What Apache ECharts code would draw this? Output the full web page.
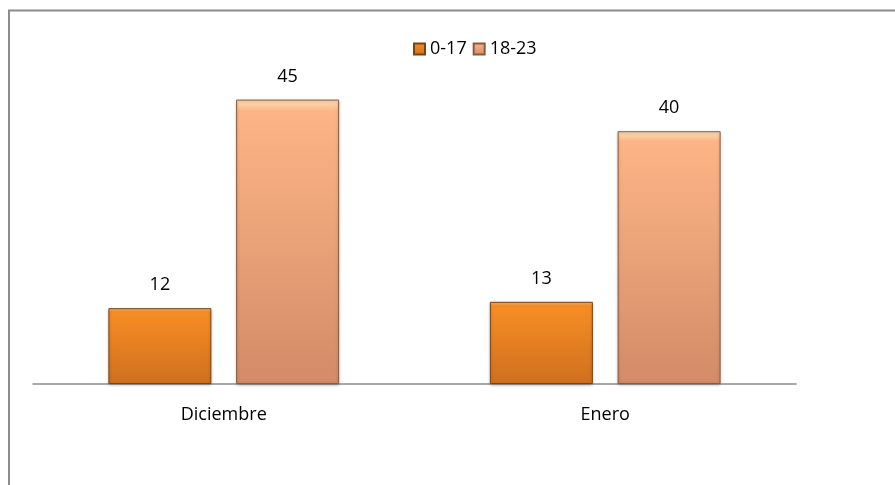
<!DOCTYPE html>
<html>
<head>
<meta charset="utf-8">
<script src="https://cdn.jsdelivr.net/npm/echarts@6/dist/echarts.min.js"></script>
<style>html,body{margin:0;padding:0;background:#fff}#c{width:895px;height:485px}</style>
</head>
<body>
<div id="c"></div>
<script>
const categories = ['Diciembre', 'Enero'];
const seriesNames = ['0-17', '18-23'];
const values0to17 = [12, 13];
const values18to23 = [45, 40];

const chart = echarts.init(document.getElementById('c'));
const font = 'Open Sans, Noto Sans, sans-serif';
const c1 = new echarts.graphic.LinearGradient(0,0,0,1,[{offset:0,color:'#fcc080'},{offset:0.05,color:'#f78d24'},{offset:1,color:'#cf6f1f'}]);
const c2 = new echarts.graphic.LinearGradient(0,0,0,1,[{offset:0,color:'#ffe0b8'},{offset:0.04,color:'#fdb586'},{offset:1,color:'#d38b68'}]);
const labelStyle = {show: true, position: 'top', distance: 14, fontFamily: font, fontSize: 18, color: '#000'};
chart.setOption({
  animation: false,
  graphic: [{
    type: 'rect', silent: true,
    shape: {x: 9, y: 10.5, width: 1000, height: 1000},
    style: {fill: 'none', stroke: '#8c8c8c', lineWidth: 2}
  }],
  legend: {
    top: 35, left: 408, itemWidth: 11, itemHeight: 11, itemGap: 6, icon: 'rect',
    textStyle: {fontFamily: font, fontSize: 18, color: '#000'},
    data: seriesNames
  },
  grid: {left: 33, right: 99, top: 68, bottom: 101},
  xAxis: {
    type: 'category', data: categories,
    axisLine: {lineStyle: {color: '#8c8c8c', width: 1.5}},
    axisTick: {show: false},
    axisLabel: {fontFamily: font, fontSize: 18, color: '#000', margin: 22}
  },
  yAxis: {type: 'value', min: 0, max: 50, show: false, splitLine: {show: false}},
  series: [{
    name: seriesNames[0], type: 'bar', data: values0to17,
    barWidth: '27%', barGap: '24%',
    itemStyle: {color: c1, borderColor: '#7a4412', borderWidth: 1, shadowBlur: 3, shadowColor: 'rgba(0,0,0,0.25)', shadowOffsetY: 1},
    label: labelStyle
  }, {
    name: seriesNames[1], type: 'bar', data: values18to23,
    barWidth: '27%',
    itemStyle: {color: c2, borderColor: '#8a5a40', borderWidth: 1, shadowBlur: 3, shadowColor: 'rgba(0,0,0,0.25)', shadowOffsetY: 1},
    label: labelStyle
  }]
});
</script>
</body>
</html>
